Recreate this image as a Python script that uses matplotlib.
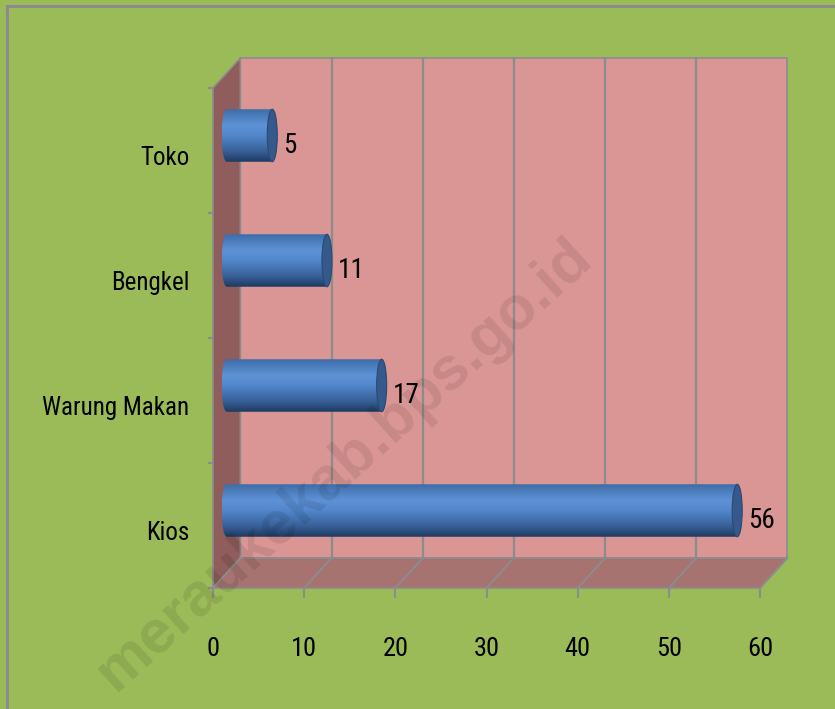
import numpy as np
import matplotlib
matplotlib.use("Agg")
import matplotlib.pyplot as plt
from matplotlib import font_manager
from matplotlib.patches import Polygon, PathPatch, Ellipse
from matplotlib.path import Path
from matplotlib.colors import LinearSegmentedColormap
from matplotlib.lines import Line2D

# ---------------- data ----------------
categories = ["Kios", "Warung Makan", "Bengkel", "Toko"]
values = [56, 17, 11, 5]
x_ticks = [0, 10, 20, 30, 40, 50, 60]
watermark = "meraukekab.bps.go.id"

# ---------------- fonts ----------------
avail = {f.name for f in font_manager.fontManager.ttflist}
main_font = next((f for f in ["Liberation Sans Narrow", "Roboto Condensed",
                              "Open Sans Condensed", "Liberation Sans"] if f in avail),
                 "DejaVu Sans")
wm_font = "Liberation Sans" if "Liberation Sans" in avail else "DejaVu Sans"
plt.rcParams["font.family"] = [main_font, "DejaVu Sans"]

W, H = 835, 709
GREEN = "#9BBB59"
BACK = "#DA9694"
LEFTW = "#8E5D5C"
FLOOR = "#A67370"
GRID = "#8C8C8C"

fig = plt.figure(figsize=(W / 100, H / 100), dpi=100, facecolor=GREEN)

# outer frame (top and left)
fig.add_artist(Line2D([7 / W, 1], [1 - 5.5 / H, 1 - 5.5 / H], color=GRID, lw=2.2,
                      transform=fig.transFigure))
fig.add_artist(Line2D([7 / W, 7 / W], [0, 1 - 5.5 / H], color=GRID, lw=2.2,
                      transform=fig.transFigure))

ax = fig.add_axes([213 / W, 1 - 588 / H, 547 / W, 500 / H])
ax.set_facecolor("none")
for s in ax.spines.values():
    s.set_visible(False)

n = len(categories)
xmax = x_ticks[-1]
ylo, yhi = -0.5, n - 0.5
DX = 3.0      # depth offset in value units
DY = 0.24     # depth offset in category units

# walls
ax.add_patch(Polygon([(DX, ylo + DY), (xmax + DX, ylo + DY), (xmax + DX, yhi + DY), (DX, yhi + DY)],
                     closed=True, facecolor=BACK, edgecolor=GRID, lw=1.2, clip_on=False, zorder=0))
ax.add_patch(Polygon([(0, ylo), (DX, ylo + DY), (DX, yhi + DY), (0, yhi)],
                     closed=True, facecolor=LEFTW, edgecolor=GRID, lw=1.2, clip_on=False, zorder=0.5))
ax.add_patch(Polygon([(0, ylo), (xmax, ylo), (xmax + DX, ylo + DY), (DX, ylo + DY)],
                     closed=True, facecolor=FLOOR, edgecolor=GRID, lw=1.2, clip_on=False, zorder=0.5))

# gridlines on back wall and floor
for v in x_ticks[1:-1]:
    ax.plot([v + DX, v + DX], [ylo + DY, yhi + DY], color=GRID, lw=1.6, clip_on=False, zorder=0.6)
for v in x_ticks[1:]:
    ax.plot([v, v + DX], [ylo, ylo + DY], color=GRID, lw=1.4, clip_on=False, zorder=0.6)

# cylinder bars
cmap = LinearSegmentedColormap.from_list("cyl", [
    (0.0, "#3E6DA8"), (0.3, "#5E92D6"), (0.5, "#5287CB"), (0.8, "#375F97"), (1.0, "#1E3A60")])
grad = np.linspace(0, 1, 200).reshape(-1, 1)
HH = 0.21
EX = 0.55
t_right = np.linspace(np.pi / 2, -np.pi / 2, 40)
t_left = np.linspace(-np.pi / 2, -3 * np.pi / 2, 40)
for i, v in enumerate(values):
    yc = i + DY / 2
    x0 = DX / 2
    x1 = v + DX / 2
    pts = [(x1 + EX * np.cos(t), yc + HH * np.sin(t)) for t in t_right] + \
          [(x0 + EX * np.cos(t), yc + HH * np.sin(t)) for t in t_left]
    pts.append(pts[0])
    path = Path(pts, closed=True)
    patch = PathPatch(path, facecolor="none", edgecolor="none", transform=ax.transData)
    ax.add_patch(patch)
    im = ax.imshow(grad, extent=(x0 - EX, x1 + EX, yc - HH, yc + HH), aspect="auto",
                   cmap=cmap, origin="upper", zorder=2, interpolation="bilinear")
    im.set_clip_path(patch)
    ax.add_patch(Ellipse((x1, yc), 2 * EX, 2 * HH, facecolor="#34598A", edgecolor="#2B4A73",
                         lw=0.8, zorder=3))
    ax.text(v + 2.7, i + 0.04, str(v), ha="left", va="center", fontsize=19.5, color="black", zorder=4)

ax.set_xlim(0, xmax)
ax.set_ylim(ylo, yhi)

ax.set_xticks(x_ticks)
ax.set_xticklabels([str(v) for v in x_ticks])
ax.tick_params(axis="x", length=7.5, width=1.5, color=GRID, pad=28, labelsize=19)

ax.set_yticks(np.arange(n) - 0.04)
ax.set_yticklabels(categories)
ax.tick_params(axis="y", length=0, pad=17, labelsize=18)
ax.set_yticks(np.arange(n + 1) - 0.5, minor=True)
ax.tick_params(axis="y", which="minor", length=3.6, width=1.5, color=GRID)

# watermark
fig.text(345 / W, 1 - 465 / H, watermark, fontsize=44, fontweight="bold", family=wm_font,
         color="black", alpha=0.09, rotation=42, ha="center", va="center",
         rotation_mode="anchor", zorder=10)

fig.savefig("out.png", dpi=100, facecolor=GREEN)
